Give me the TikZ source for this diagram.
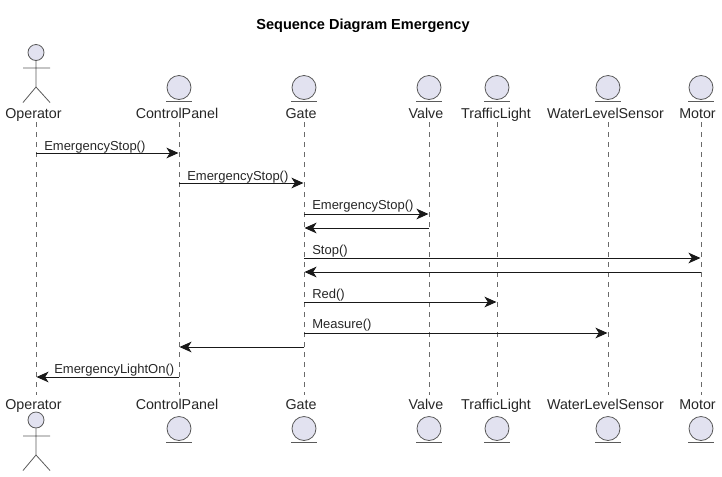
\documentclass[tikz,border=0pt]{standalone}
\usepackage{fontspec}
\setmainfont{Liberation Sans}
\usetikzlibrary{arrows.meta}
\definecolor{partfill}{HTML}{E2E2F0}
\definecolor{partline}{HTML}{5A5A5A}
\definecolor{lifecol}{HTML}{6A6A6A}
\tikzset{
    partname/.style={font=\fontsize{10.7pt}{12pt}\selectfont, text=black!85, inner sep=0pt, anchor=base},
    msglabel/.style={font=\fontsize{9.75pt}{11pt}\selectfont, text=black!85, inner sep=0pt, anchor=base west},
    headball/.style={circle, draw=partline, fill=partfill, line width=0.6pt, minimum size=12pt, inner sep=0pt},
    ball/.style={circle, draw=partline, fill=partfill, line width=0.6pt, minimum size=18pt, inner sep=0pt},
    limb/.style={draw=partline, line width=0.6pt},
    life/.style={draw=lifecol, line width=0.5pt, dash pattern=on 3.75pt off 3.75pt},
    msg/.style={draw=black!90, line width=0.75pt, -{Stealth[length=9pt, width=8pt, inset=2.5pt]}, shorten >=0.4pt}
}
\begin{document}
\begin{tikzpicture}[x=0.75pt, y=-0.75pt]
    \useasboundingbox (0,0) rectangle (722,476);
    \node[font=\fontsize{10.9pt}{12pt}\bfseries\selectfont, inner sep=0pt] (title) at (363,26) {Sequence Diagram Emergency};
    % names on top and below
    \node[partname] (opT) at (33.5,118.3) {Operator};
    \node[partname] (cpT) at (177,118.3) {ControlPanel};
    \node[partname] (gaT) at (301,118.3) {Gate};
    \node[partname] (vaT) at (426,118.3) {Valve};
    \node[partname] (trT) at (496,118.3) {TrafficLight};
    \node[partname] (wlT) at (605.5,118.3) {WaterLevelSensor};
    \node[partname] (moT) at (697.5,118.3) {Motor};
    \node[partname] (opB) at (33.5,409.3) {Operator};
    \node[partname] (cpB) at (177,409.3) {ControlPanel};
    \node[partname] (gaB) at (301,409.3) {Gate};
    \node[partname] (vaB) at (426,409.3) {Valve};
    \node[partname] (trB) at (496,409.3) {TrafficLight};
    \node[partname] (wlB) at (605.5,409.3) {WaterLevelSensor};
    \node[partname] (moB) at (697.5,409.3) {Motor};
    % lifelines
    \coordinate (opL) at (36,122);
    \coordinate (cpL) at (179,122);
    \coordinate (gaL) at (304,122);
    \coordinate (vaL) at (429,122);
    \coordinate (trL) at (497,122);
    \coordinate (wlL) at (608,122);
    \coordinate (moL) at (701,122);
    \foreach \who in {op,cp,ga,va,tr,wl,mo}
        \draw[life] (\who L) -- (\who L |- 0,395);
    % the operator on top and below
    \node[headball] (opHeadT) at (36,52.5) {};
    \draw[limb] (opHeadT.south) -- (36,87) (23,68) -- (50,68) (23,102.5) -- (36,87) -- (50,102.5);
    \node[headball] (opHeadB) at (36,420) {};
    \draw[limb] (opHeadB.south) -- (36,455) (23,436) -- (50,436) (23,470.5) -- (36,455) -- (50,470.5);
    % entities
    \foreach \who in {cp,ga,va,tr,wl,mo} {
        \node[ball] (\who BallT) at (\who L |- 0,87.5) {};
        \draw[limb] ([xshift=-9.5pt,yshift=-1pt]\who BallT.south) -- ([xshift=9.5pt,yshift=-1pt]\who BallT.south);
        \node[ball] (\who BallB) at (\who L |- 0,428.5) {};
        \draw[limb] ([xshift=-9.5pt,yshift=-1pt]\who BallB.south) -- ([xshift=9.5pt,yshift=-1pt]\who BallB.south);
    }
    % messages
    \draw[msg] (opL |- 0,153) -- (cpL |- 0,153);
    \draw[msg] (cpL |- 0,183) -- (gaL |- 0,183);
    \draw[msg] (gaL |- 0,214) -- (vaL |- 0,214);
    \draw[msg] (vaL |- 0,228) -- (gaL |- 0,228);
    \draw[msg] (gaL |- 0,258) -- (moL |- 0,258);
    \draw[msg] (moL |- 0,272) -- (gaL |- 0,272);
    \draw[msg] (gaL |- 0,302) -- (trL |- 0,302);
    \draw[msg] (gaL |- 0,333) -- (wlL |- 0,333);
    \draw[msg] (gaL |- 0,347) -- (cpL |- 0,347);
    \draw[msg] (cpL |- 0,377) -- (opL |- 0,377);
    \node[msglabel] (m1) at (44,150) {EmergencyStop()};
    \node[msglabel] (m2) at (187,180) {EmergencyStop()};
    \node[msglabel] (m3) at (312,209.5) {EmergencyStop()};
    \node[msglabel] (m5) at (312,254.5) {Stop()};
    \node[msglabel] (m7) at (312,298.5) {Red()};
    \node[msglabel] (m8) at (312,328.5) {Measure()};
    \node[msglabel] (m10) at (54,373.5) {EmergencyLightOn()};
\end{tikzpicture}
\end{document}
